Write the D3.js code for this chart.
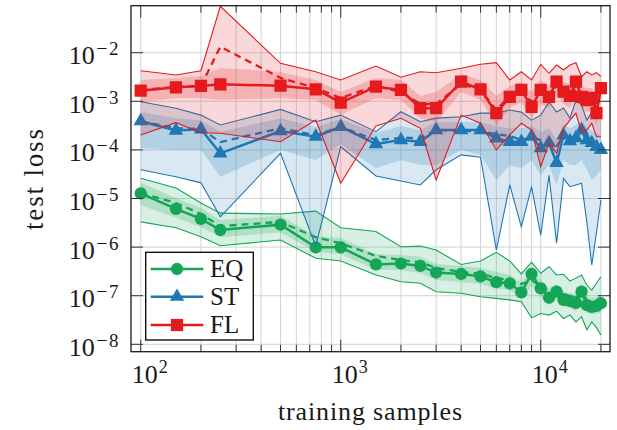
<!DOCTYPE html>
<html><head><meta charset="utf-8">
<script src="https://cdn.jsdelivr.net/npm/d3@7"></script>
<style>
body{margin:0;background:#fff}
svg{display:block}
</style>
</head><body>
<svg id="chart" width="617" height="430" font-family="'Liberation Serif', 'DejaVu Serif', serif"></svg>
<script>
// training sample counts (x)
const samples = [100,150,200,250,500,750,1000,1500,2000,2500,3000,4000,5000,6000,7000,8000,9000,10000,11000,12000,13000,14000,15000,16000,17000,18000,19000,20000];

// EQ
const eqMean = [1.28e-5,6.1e-6,3.8e-6,2.25e-6,2.9e-6,9.9e-7,9.9e-7,4.4e-7,4.6e-7,4.1e-7,3.0e-7,2.8e-7,2.5e-7,1.9e-7,1.8e-7,1.17e-7,2.8e-7,1.42e-7,9.1e-8,1.21e-7,8.2e-8,7.8e-8,7.1e-8,1.21e-7,6.4e-8,5.9e-8,6.2e-8,7.0e-8];
const eqMed  = [1.3e-5,8.1e-6,4.8e-6,2.7e-6,3.3e-6,1.6e-6,1.2e-6,6.6e-7,5.4e-7,4.9e-7,3.7e-7,3.1e-7,2.8e-7,2.3e-7,2.1e-7,1.74e-7,2.1e-7,1.58e-7,1.19e-7,1.31e-7,1.08e-7,9.9e-8,9.0e-8,1.19e-7,8.2e-8,7.4e-8,7.4e-8,8.2e-8];
const eqMax  = [2.6e-5,1.64e-5,8.1e-6,5.0e-6,4.8e-6,5.5e-6,2.5e-6,2.1e-6,1.02e-6,1.05e-6,8.7e-7,4.4e-7,5.2e-7,7.8e-7,5.2e-7,2.8e-7,4.9e-7,2.9e-7,3.95e-7,2.67e-7,2.76e-7,2.0e-7,2.3e-7,2.67e-7,1.66e-7,1.31e-7,1.83e-7,2.46e-7];
const eqMin  = [3.3e-6,2.5e-6,1.64e-6,1.07e-6,1.4e-6,5.9e-7,5.2e-7,2.67e-7,1.94e-7,1.8e-7,1.21e-7,1.12e-7,9.5e-8,8.8e-8,8.2e-8,7.5e-8,3.5e-8,4.3e-8,4.0e-8,4.8e-8,3.4e-8,4.0e-8,2.9e-8,3.7e-8,2.0e-8,2.9e-8,2.2e-8,1.55e-8];
const eqInHi = [2.1e-5,1.02e-5,6.4e-6,3.6e-6,4.4e-6,1.7e-6,1.54e-6,7.2e-7,6.9e-7,6.3e-7,4.5e-7,4.1e-7,3.7e-7,3.1e-7,2.67e-7,1.9e-7,3.7e-7,2.1e-7,1.44e-7,1.74e-7,1.19e-7,1.14e-7,1.08e-7,1.74e-7,9.9e-8,9.0e-8,9.4e-8,1.08e-7];
const eqInLo = [7.3e-6,4.0e-6,2.6e-6,1.6e-6,2.0e-6,7.9e-7,7.2e-7,3.4e-7,3.4e-7,2.9e-7,2.1e-7,1.9e-7,1.74e-7,1.37e-7,1.31e-7,9.0e-8,1.58e-7,9.9e-8,6.4e-8,8.2e-8,5.9e-8,5.6e-8,4.8e-8,7.4e-8,4.4e-8,4.2e-8,4.2e-8,4.6e-8];

// ST
const stMean = [3.9e-4,2.5e-4,2.65e-4,8.5e-5,2.45e-4,1.87e-4,3.0e-4,1.32e-4,1.6e-4,1.47e-4,2.57e-4,2.57e-4,2.57e-4,1.73e-4,1.47e-4,1.47e-4,1.87e-4,1.09e-4,1.39e-4,5.4e-5,2.0e-4,1.52e-4,1.76e-4,2.57e-4,1.6e-4,1.39e-4,1.15e-4,1.0e-4];
const stMed  = [3.9e-4,2.8e-4,2.7e-4,1.45e-4,2.8e-4,2.0e-4,2.96e-4,1.6e-4,1.76e-4,1.76e-4,2.57e-4,2.45e-4,2.45e-4,2.1e-4,1.93e-4,1.6e-4,1.84e-4,1.6e-4,1.52e-4,1.2e-4,1.84e-4,1.6e-4,1.76e-4,2.34e-4,1.6e-4,1.45e-4,1.26e-4,1.09e-4];
const stMax  = [9.8e-4,7.2e-4,5.2e-4,3.25e-4,6.8e-4,3.8e-4,5.2e-4,2.37e-4,6.1e-4,3.8e-4,4.5e-4,4.8e-4,5.7e-4,5.7e-4,6.6e-4,6.0e-4,4.1e-4,5.2e-4,9.7e-4,6.0e-4,7.3e-4,4.5e-4,1.06e-3,8.4e-4,4.1e-4,6.0e-4,7.3e-4,5.7e-4];
const stMin  = [3.9e-5,2.8e-5,2.1e-5,4.2e-6,8.5e-5,1.05e-6,1.16e-4,2.9e-5,2.3e-5,1.9e-5,3.9e-5,7.9e-5,7.1e-5,8.7e-7,1.9e-5,2.6e-6,1.75e-5,1.77e-6,3.0e-5,1.2e-6,2.6e-5,1.75e-5,1.9e-5,2.06e-5,3.3e-6,4.3e-7,2.0e-6,9.3e-6];
const stInHi = [6.0e-4,4.5e-4,4.1e-4,2.34e-4,4.5e-4,2.96e-4,4.3e-4,2.23e-4,3.1e-4,2.57e-4,3.75e-4,3.75e-4,3.75e-4,3.1e-4,2.8e-4,2.8e-4,3.1e-4,2.34e-4,2.8e-4,1.6e-4,3.4e-4,2.8e-4,3.25e-4,4.1e-4,2.8e-4,2.57e-4,2.23e-4,2.0e-4];
const stInLo = [1.09e-4,1.0e-4,1.0e-4,2.8e-5,1.0e-4,6.2e-5,1.3e-4,4.2e-5,6.2e-5,4.9e-5,4.9e-5,1.0e-4,7.9e-5,2.4e-5,4.9e-5,4.2e-5,6.2e-5,3.0e-5,4.9e-5,1.9e-5,6.2e-5,4.9e-5,4.9e-5,6.2e-5,3.9e-5,2.4e-5,3.0e-5,3.9e-5];

// FL
const flMean = [1.65e-3,1.94e-3,2.07e-3,2.24e-3,2.09e-3,1.77e-3,9.4e-4,2.0e-3,1.71e-3,7.2e-4,7.2e-4,2.53e-3,1.77e-3,5.7e-4,1.24e-3,1.71e-3,7.7e-4,1.71e-3,1.24e-3,2.53e-3,1.58e-3,1.29e-3,2.53e-3,1.24e-3,1.06e-3,1.17e-3,5.7e-4,1.86e-3];
const flMed  = [1.71e-3,1.97e-3,2.07e-3,1.33e-2,3.02e-3,1.88e-3,1.17e-3,2.07e-3,1.55e-3,8.8e-4,8.8e-4,2.27e-3,1.71e-3,6.6e-4,1.29e-3,1.55e-3,9.7e-4,1.55e-3,1.35e-3,2.07e-3,1.55e-3,1.35e-3,2.16e-3,1.35e-3,1.17e-3,1.17e-3,7.3e-4,1.71e-3];
const flMax  = [4.26e-3,3.48e-3,4.26e-3,9.0e-2,6.05e-3,4.06e-3,2.74e-3,5.33e-3,3.12e-3,4.06e-3,3.88e-3,4.78e-3,5.77e-3,6.23e-3,2.74e-3,4.06e-3,2.74e-3,5.77e-3,3.77e-3,5.58e-3,4.41e-3,5.58e-3,6.23e-3,3.21e-3,4.06e-3,3.48e-3,3.88e-3,3.21e-3];
const flMin  = [2.03e-4,3.63e-4,2.26e-4,2.2e-4,1.47e-4,4.1e-4,2.06e-5,3.1e-4,4.47e-4,2.78e-4,2.4e-5,5.2e-4,3.53e-4,1.0e-4,2.03e-4,3.53e-4,2.57e-4,4.51e-5,1.37e-4,8.5e-5,2.78e-4,4.1e-4,5.7e-4,2.2e-4,2.57e-4,3.53e-4,1.87e-4,1.87e-4];
const flInHi = [2.74e-3,3.02e-3,3.32e-3,4.84e-3,4.01e-3,2.74e-3,1.55e-3,3.02e-3,2.74e-3,1.29e-3,1.55e-3,3.65e-3,2.74e-3,1.29e-3,2.07e-3,2.5e-3,1.55e-3,2.74e-3,2.07e-3,3.65e-3,2.5e-3,2.27e-3,3.65e-3,2.07e-3,1.88e-3,1.88e-3,1.17e-3,2.74e-3];
const flInLo = [9.7e-4,1.17e-3,1.17e-3,1.06e-3,1.17e-3,1.06e-3,5.2e-4,1.17e-3,1.06e-3,4.5e-4,3.75e-4,1.55e-3,1.06e-3,3.25e-4,7.3e-4,9.7e-4,4.5e-4,8.8e-4,7.3e-4,1.35e-3,8.8e-4,7.3e-4,1.29e-3,7.3e-4,6.0e-4,6.6e-4,3.25e-4,1.06e-3];

// ticks
const xTickVals = [100,1000,10000];
const xTickExp  = ["2","3","4"];
const yTickVals = [1e-8,1e-7,1e-6,1e-5,1e-4,1e-3,1e-2];
const yTickExp  = ["8","7","6","5","4","3","2"];
const legendNames = ["EQ","ST","FL"];

const FONT = "'Liberation Serif', 'DejaVu Serif', serif";
const L=131, R=610, T=5.7, B=351.7;
const svg = d3.select("#chart");
const x = d3.scaleLog().domain([89.4,22200]).range([L,R]);
const y = d3.scaleLog().domain([7.05e-9,0.0927]).range([B,T]);

svg.append("defs").append("clipPath").attr("id","clip")
  .append("rect").attr("x",L).attr("y",T).attr("width",R-L).attr("height",B-T);

// grid
const gGrid = svg.append("g").attr("stroke","#d4d4d4").attr("stroke-width",1);
const xAll = x.ticks().filter(v => x(v)>L+2 && x(v)<R-2);
gGrid.selectAll("line.vx").data(xAll).join("line")
  .attr("x1",d=>x(d)).attr("x2",d=>x(d)).attr("y1",T).attr("y2",B);
gGrid.selectAll("line.hy").data(yTickVals).join("line")
  .attr("x1",L).attr("x2",R).attr("y1",d=>y(d)).attr("y2",d=>y(d));

const series = [
  {name:"EQ", color:"#14a556", mean:eqMean, med:eqMed, hi:eqMax, lo:eqMin, inHi:eqInHi, inLo:eqInLo, sym:d3.symbolCircle, size:118},
  {name:"ST", color:"#1f77b4", mean:stMean, med:stMed, hi:stMax, lo:stMin, inHi:stInHi, inLo:stInLo, sym:d3.symbolTriangle, size:90},
  {name:"FL", color:"#e41a1c", mean:flMean, med:flMed, hi:flMax, lo:flMin, inHi:flInHi, inLo:flInLo, sym:d3.symbolSquare, size:150},
];

const gData = svg.append("g").attr("clip-path","url(#clip)");
const idx = d3.range(samples.length);
series.forEach(s => {
  const g = gData.append("g");
  const band = (lo,hi) => d3.area().x(i=>x(samples[i])).y0(i=>y(lo[i])).y1(i=>y(hi[i]))(idx);
  const line = arr => d3.line().x(i=>x(samples[i])).y(i=>y(arr[i]))(idx);
  g.append("path").attr("d",band(s.lo,s.hi)).attr("fill",s.color).attr("fill-opacity",0.17);
  g.append("path").attr("d",band(s.inLo,s.inHi)).attr("fill",s.color).attr("fill-opacity",0.2);
  g.append("path").attr("d",line(s.hi)).attr("fill","none").attr("stroke",s.color).attr("stroke-width",1.1);
  g.append("path").attr("d",line(s.lo)).attr("fill","none").attr("stroke",s.color).attr("stroke-width",1.1);
  g.append("path").attr("d",line(s.med)).attr("fill","none").attr("stroke",s.color).attr("stroke-width",2.3).attr("stroke-dasharray","7,5");
  g.append("path").attr("d",line(s.mean)).attr("fill","none").attr("stroke",s.color).attr("stroke-width",2.5);
  g.selectAll("path.m").data(idx).join("path")
    .attr("d",d3.symbol().type(s.sym).size(s.size))
    .attr("transform",i=>`translate(${x(samples[i])},${y(s.mean[i])})`)
    .attr("fill",s.color);
});

// frame and ticks
const gAx = svg.append("g").attr("stroke","#333").attr("stroke-width",1);
const isMajor = v => Math.abs(Math.log10(v)-Math.round(Math.log10(v)))<1e-6;
xAll.forEach(v=>{
  const len = isMajor(v)?12:7;
  gAx.append("line").attr("x1",x(v)).attr("x2",x(v)).attr("y1",B).attr("y2",B-len);
  gAx.append("line").attr("x1",x(v)).attr("x2",x(v)).attr("y1",T).attr("y2",T+len);
});
yTickVals.forEach(v=>{
  gAx.append("line").attr("x1",L).attr("x2",L+12).attr("y1",y(v)).attr("y2",y(v));
  gAx.append("line").attr("x1",R).attr("x2",R-12).attr("y1",y(v)).attr("y2",y(v));
});
svg.append("rect").attr("x",L).attr("y",T).attr("width",R-L).attr("height",B-T)
  .attr("fill","none").attr("stroke","#1a1a1a").attr("stroke-width",1.3);

const txt = (sel) => sel.append("text").attr("font-family",FONT).attr("fill","#1a1a1a");

// x tick labels
xTickVals.forEach((v,i)=>{
  const t = txt(svg).attr("x",x(v)-9).attr("y",383);
  t.append("tspan").attr("font-size",26).text("10");
  t.append("tspan").attr("font-size",18).attr("dy",-10).attr("dx",1).text(xTickExp[i]);
});
// y tick labels
yTickVals.forEach((v,i)=>{
  const t = txt(svg).attr("x",118.5).attr("y",y(v)+11.5).attr("text-anchor","end");
  t.append("tspan").attr("font-size",26).text("10");
  t.append("tspan").attr("font-size",20).attr("dy",-9).attr("dx",1.5).text("\u2212");
  t.append("tspan").attr("font-size",19).attr("dx",1.5).text(yTickExp[i]);
});

// axis titles
txt(svg).attr("x",278).attr("y",420).attr("font-size",26)
  .attr("textLength",184).attr("lengthAdjust","spacing").text("training samples");
txt(svg).attr("transform","translate(43,230) rotate(-90)")
  .attr("font-size",27).attr("textLength",101).attr("lengthAdjust","spacing").text("test loss");

// legend
const lg = svg.append("g");
lg.append("rect").attr("x",145.7).attr("y",252.3).attr("width",107.6).attr("height",87.7)
  .attr("fill","#fff").attr("stroke","#111").attr("stroke-width",1.4);
const lgY = [269,296.7,325];
series.forEach((s,i)=>{
  lg.append("line").attr("x1",150.7).attr("x2",203.3).attr("y1",lgY[i]).attr("y2",lgY[i])
    .attr("stroke",s.color).attr("stroke-width",2.5);
  lg.append("path").attr("d",d3.symbol().type(s.sym).size(s.size))
    .attr("transform",`translate(177,${lgY[i]})`).attr("fill",s.color);
  txt(lg).attr("x",210).attr("y",lgY[i]+8).attr("font-size",25).text(legendNames[i]);
});
</script>
</body></html>
